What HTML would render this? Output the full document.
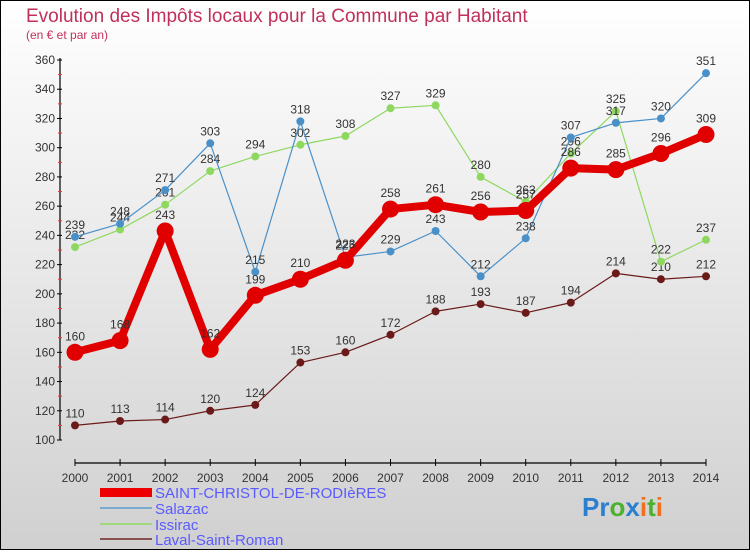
<!DOCTYPE html>
<html><head><meta charset="utf-8"><style>
html,body{margin:0;padding:0;}
body{width:750px;height:550px;overflow:hidden;font-family:"Liberation Sans",sans-serif;}
</style></head><body>
<svg width="750" height="550" xmlns="http://www.w3.org/2000/svg">
<defs><linearGradient id="bg" x1="0" y1="0" x2="0" y2="1"><stop offset="0" stop-color="#ffffff"/><stop offset="1" stop-color="#d0d0d0"/></linearGradient></defs>
<rect x="0.5" y="0.5" width="749" height="549" fill="url(#bg)" stroke="#000"/>
<text x="26" y="22" font-size="19" fill="#c0305a">Evolution des Impôts locaux pour la Commune par Habitant</text>
<text x="26" y="39" font-size="12" fill="#c0305a">(en € et par an)</text>
<g id="axes"></g>
<g id="series"></g>
<g id="legend" font-size="15" fill="#5a5aff">
<rect x="100" y="488" width="52" height="9" fill="#e00"/>
<text x="155" y="498">SAINT-CHRISTOL-DE-RODIèRES</text>
<rect x="100" y="507" width="52" height="2" fill="#7aaad0"/>
<text x="155" y="514">Salazac</text>
<rect x="100" y="523" width="52" height="2" fill="#9ed87a"/>
<text x="155" y="530">Issirac</text>
<rect x="100" y="538" width="52" height="2" fill="#8a5050"/>
<text x="155" y="545">Laval-Saint-Roman</text>
</g>
<g font-size="26" font-weight="bold">
<text x="582" y="516"><tspan fill="#2a7fd0">Pr</tspan><tspan fill="#4cb030">o</tspan><tspan fill="#2a7fd0">x</tspan><tspan fill="#f07020">i</tspan><tspan fill="#4cb030">t</tspan><tspan fill="#f07020">i</tspan></text>
</g>
</svg>
<script>
const years=[2000,2001,2002,2003,2004,2005,2006,2007,2008,2009,2010,2011,2012,2013,2014];
const yTicks=[100,120,140,160,180,200,220,240,260,280,300,320,340,360];
const stChristol=[160,168,243,162,199,210,223,258,261,256,257,286,285,296,309];
const salazac=[239,248,271,303,215,318,225,229,243,212,238,307,317,320,351];
const issirac=[232,244,261,284,294,302,308,327,329,280,263,296,325,222,237];
const laval=[110,113,114,120,124,153,160,172,188,193,187,194,214,210,212];
const NS="http://www.w3.org/2000/svg";
function xS(i){return 75+i*(706-75)/(years.length-1);}
function yS(v){return 440-(v-100)*(380/260);}
function mk(t,a,p){const e=document.createElementNS(NS,t);for(const k in a)e.setAttribute(k,a[k]);p.appendChild(e);return e;}
const ax=document.getElementById('axes');
let yl=mk('line',{x1:60,y1:58,x2:60,y2:440,stroke:'#000','stroke-width':1.2},ax);


let xl=mk('line',{x1:75,y1:463,x2:706,y2:463,stroke:'#000','stroke-width':1.2},ax);


yTicks.forEach(v=>{const y=yS(v);
mk('line',{x1:57,y1:y,x2:62,y2:y,stroke:'#000'},ax);
if(v<360)mk('line',{x1:58,y1:y-14.6,x2:62,y2:y-14.6,stroke:'#e33'},ax);
const t=mk('text',{x:55,y:y+4,'text-anchor':'end','font-size':12,fill:'#333'},ax);t.textContent=v;

});
years.forEach((yr,i)=>{const x=xS(i);
mk('line',{x1:x,y1:459,x2:x,y2:466,stroke:'#000'},ax);
const t=mk('text',{x:x,y:482,'text-anchor':'middle','font-size':12,fill:'#333'},ax);t.textContent=yr;

});
const sg=document.getElementById('series');
function draw(vals,color,w,r,name,labelOff){
const g=mk('g',{},sg);


const pts=vals.map((v,i)=>xS(i)+','+yS(v)).join(' ');
mk('polyline',{points:pts,fill:'none',stroke:color,'stroke-width':w,'stroke-linejoin':'round'},g);
vals.forEach((v,i)=>{const c=mk('circle',{cx:xS(i),cy:yS(v),r:r,fill:color},g);


const t=mk('text',{x:xS(i),y:yS(v)-labelOff,'text-anchor':'middle','font-size':12,fill:'#333'},g);t.textContent=v;

});}
draw(laval,'#6b1a1a',1.2,4,'laval-series',8);
draw(issirac,'#8ed860',1.2,4,'issirac-series',8);
draw(salazac,'#4a90c8',1.2,4,'salazac-series',8);
draw(stChristol,'#e00000',8,8.5,'st-christol-series',12);
</script>
</body></html>
